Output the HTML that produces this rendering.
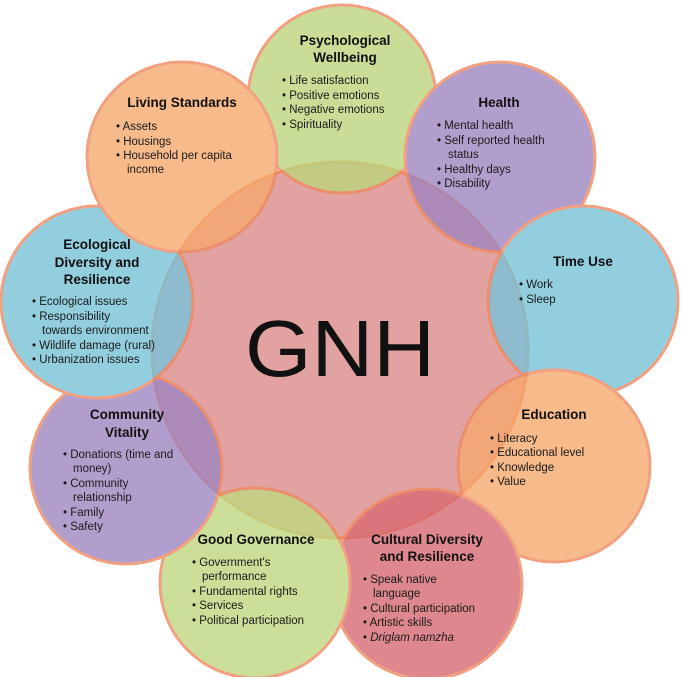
<!DOCTYPE html>
<html><head><meta charset="utf-8"><style>
html,body{margin:0;padding:0;background:#fff;}
svg{display:block;}
.t{font-family:"Liberation Sans",sans-serif;font-weight:bold;font-size:13.5px;fill:#111;text-anchor:middle;}
.i{font-family:"Liberation Sans",sans-serif;font-size:11.5px;fill:#1a1a1a;}
</style></head><body>
<svg width="681" height="677" viewBox="0 0 681 677" xmlns="http://www.w3.org/2000/svg">
<g stroke="#ee8a62" stroke-width="3">
<circle cx="340" cy="350" r="188" fill="#e3a2a2"/>
<g opacity="0.8">
<circle cx="342" cy="99" r="94" fill="#bcd57c"/>
<circle cx="500" cy="157" r="95" fill="#9f86c0"/>
<circle cx="583" cy="301" r="95" fill="#79c2d8"/>
<circle cx="554" cy="466" r="96" fill="#f6a96f"/>
<circle cx="427" cy="584" r="95" fill="#d76a72"/>
<circle cx="255" cy="583" r="95" fill="#bfd880"/>
<circle cx="126" cy="468" r="96" fill="#9f86c0"/>
<circle cx="97" cy="302" r="96" fill="#79c2d8"/>
<circle cx="182" cy="157" r="95" fill="#f6a96f"/>
</g>
</g>
<text x="340" y="376" font-family="Liberation Sans,sans-serif" font-size="80" text-anchor="middle" textLength="190" lengthAdjust="spacingAndGlyphs" fill="#111">GNH</text>

<text class="t" x="345" y="45">Psychological</text>
<text class="t" x="345" y="62">Wellbeing</text>
<g class="i"><text x="282" y="84">• Life satisfaction</text><text x="282" y="99">• Positive emotions</text><text x="282" y="113">• Negative emotions</text><text x="282" y="128">• Spirituality</text></g>

<text class="t" x="182" y="107">Living Standards</text>
<g class="i"><text x="116" y="130">• Assets</text><text x="116" y="145">• Housings</text><text x="116" y="159">• Household per capita</text><text x="127" y="173">income</text></g>

<text class="t" x="499" y="107">Health</text>
<g class="i"><text x="437" y="129">• Mental health</text><text x="437" y="144">• Self reported health</text><text x="448" y="158">status</text><text x="437" y="173">• Healthy days</text><text x="437" y="187">• Disability</text></g>

<text class="t" x="583" y="266">Time Use</text>
<g class="i"><text x="519" y="288">• Work</text><text x="519" y="303">• Sleep</text></g>

<text class="t" x="554" y="419">Education</text>
<g class="i"><text x="490" y="442">• Literacy</text><text x="490" y="456">• Educational level</text><text x="490" y="471">• Knowledge</text><text x="490" y="485">• Value</text></g>

<text class="t" x="427" y="544">Cultural Diversity</text>
<text class="t" x="427" y="561">and Resilience</text>
<g class="i"><text x="363" y="583">• Speak native</text><text x="373" y="597">language</text><text x="363" y="612">• Cultural participation</text><text x="363" y="626">• Artistic skills</text><text x="363" y="641">• <tspan font-style="italic">Driglam namzha</tspan></text></g>

<text class="t" x="256" y="544">Good Governance</text>
<g class="i"><text x="192" y="566">• Government's</text><text x="202" y="580">performance</text><text x="192" y="595">• Fundamental rights</text><text x="192" y="609">• Services</text><text x="192" y="624">• Political participation</text></g>

<text class="t" x="127" y="419">Community</text>
<text class="t" x="127" y="437">Vitality</text>
<g class="i"><text x="63" y="458">• Donations (time and</text><text x="73" y="472">money)</text><text x="63" y="487">• Community</text><text x="73" y="501">relationship</text><text x="63" y="516">• Family</text><text x="63" y="530">• Safety</text></g>

<text class="t" x="97" y="249">Ecological</text>
<text class="t" x="97" y="267">Diversity and</text>
<text class="t" x="97" y="284">Resilience</text>
<g class="i"><text x="32" y="305">• Ecological issues</text><text x="32" y="320">• Responsibility</text><text x="42" y="334">towards environment</text><text x="32" y="349">• Wildlife damage (rural)</text><text x="32" y="363">• Urbanization issues</text></g>
</svg>
</body></html>
